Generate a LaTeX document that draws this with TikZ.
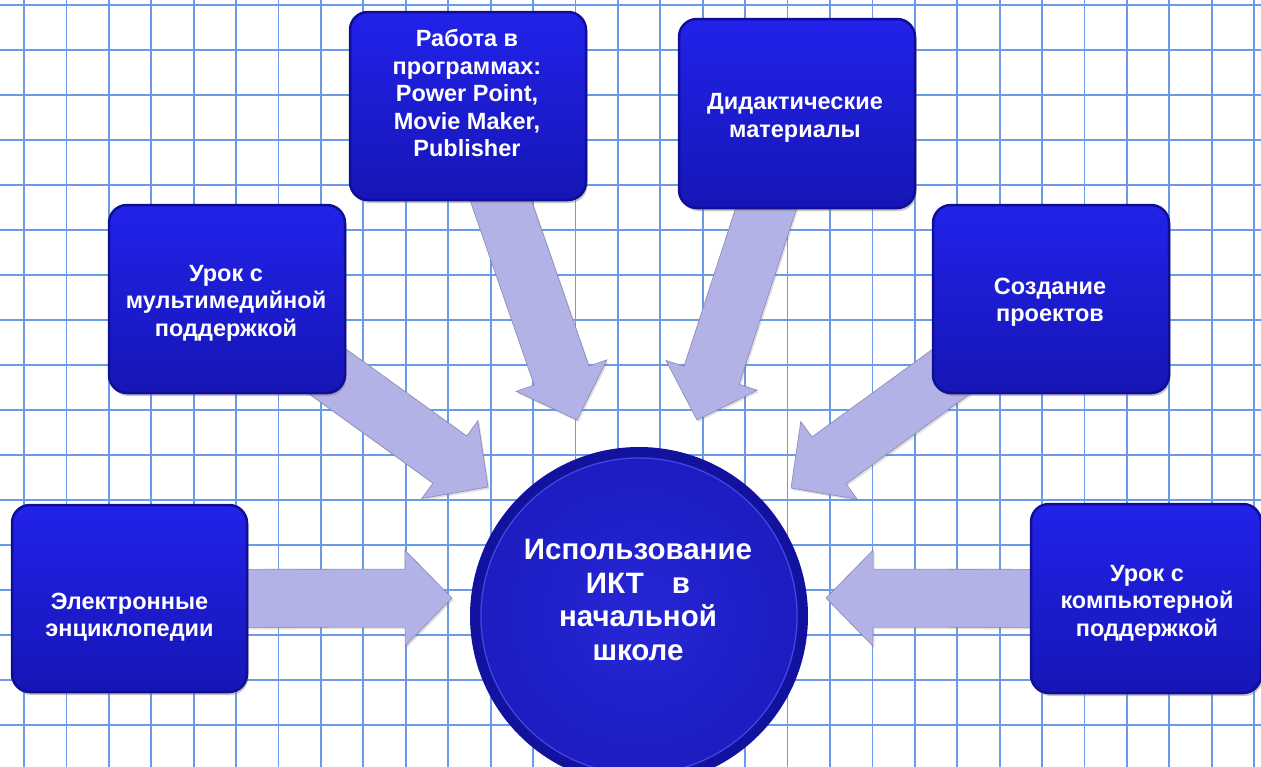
\documentclass[tikz,border=0pt]{standalone}
\usepackage{fontspec}
\setmainfont{Liberation Sans}
\usetikzlibrary{calc,shadows}
\definecolor{gridblue}{RGB}{105,155,232}
\definecolor{arrowfill}{RGB}{178,178,230}
\definecolor{arrowedge}{RGB}{135,135,180}
\definecolor{boxrim}{RGB}{14,14,150}
\definecolor{boxtop}{RGB}{34,34,234}
\definecolor{boxmid}{RGB}{30,30,220}
\definecolor{boxbot}{RGB}{22,22,182}
\definecolor{circrim}{RGB}{18,18,158}
\definecolor{circin}{RGB}{38,38,214}
\definecolor{circout}{RGB}{28,28,192}
\definecolor{circline}{RGB}{70,70,225}
\newcommand\blockarrow[3]{% name, tail, tip
  \coordinate (#1-h) at ($(#3)!47pt!(#2)$);
  \path[arrowshape] ($(#2)!29pt!90:(#3)$) -- ($(#1-h)!29pt!90:(#3)$) -- ($(#1-h)!48pt!90:(#3)$) -- (#3)
    -- ($(#1-h)!48pt!-90:(#3)$) -- ($(#1-h)!29pt!-90:(#3)$) -- ($(#2)!29pt!-90:(#3)$) -- cycle;
}
\begin{document}
\begin{tikzpicture}[x=1pt,y=-1pt,
  gridline/.style={draw=gridblue, line width=1.8pt},
  arrowshape/.style={fill=arrowfill, draw=arrowedge, line width=0.6pt, line join=miter,
    drop shadow={opacity=0.25, shadow xshift=1.5pt, shadow yshift=-2pt}},
  box/.style={rectangle, rounded corners=18pt, minimum width=236pt, minimum height=188pt,
    draw=boxrim, line width=2.5pt, top color=boxtop, middle color=boxmid, bottom color=boxbot,
    drop shadow={opacity=0.45, shadow xshift=1.5pt, shadow yshift=-3pt}},
  boxtext/.style={text=white, font=\fontsize{23.5}{27.5}\selectfont\bfseries, align=center, inner sep=0pt},
  circtext/.style={text=white, font=\fontsize{29.5}{33.5}\selectfont\bfseries, align=center, inner sep=0pt}
]
\useasboundingbox (0,0) rectangle (1261,766);
\clip (0,0) rectangle (1261,766);
\fill[white] (0,0) rectangle (1261,766);
% grid
\foreach \i in {0,...,29} \draw[gridline] ({24+42.42*\i},-5) -- ({24+42.42*\i},771);
\foreach \j in {0,...,17} \draw[gridline] (-5,{5+45*\j}) -- (1266,{5+45*\j});
% anchor coordinates
\coordinate (c1) at (129.5,598.5);
\coordinate (c2) at (227,299);
\coordinate (c3) at (468,106);
\coordinate (c4) at (797,113.5);
\coordinate (c5) at (1051,299);
\coordinate (c6) at (1146,598.5);
\coordinate (tipA) at (452,598);
\coordinate (tipB) at (488,487);
\coordinate (tipC) at (577,420);
\coordinate (tipD) at (697,420);
\coordinate (tipE) at (791,488);
\coordinate (tipF) at (826,598);
% arrows
\blockarrow{aA}{c1}{tipA}
\blockarrow{aB}{c2}{tipB}
\blockarrow{aC}{c3}{tipC}
\blockarrow{aD}{c4}{tipD}
\blockarrow{aE}{c5}{tipE}
\blockarrow{aF}{c6}{tipF}
% boxes
\node[box, minimum height=187pt, minimum width=235pt] (b1) at (c1) {};
\node[box] (b2) at (c2) {};
\node[box] (b3) at (c3) {};
\node[box, minimum height=189pt] (b4) at (c4) {};
\node[box] (b5) at (c5) {};
\node[box, minimum width=230pt, minimum height=189pt] (b6) at (c6) {};
\node[boxtext] (t1) at (129.5,617) {Электронные\\энциклопедии};
\node[boxtext] (t2) at (226,303) {Урок с\\мультимедийной\\поддержкой};
\node[boxtext] (t3) at (467,93) {Работа в\\программах:\\Power Point,\\Movie Maker,\\Publisher};
\node[boxtext] (t4) at (795,118) {Дидактические\\материалы};
\node[boxtext] (t5) at (1050,302) {Создание\\проектов};
\node[boxtext] (t6) at (1147,603) {Урок с\\компьютерной\\поддержкой};
% circle
\node[circle, minimum size=328pt, inner sep=0pt, draw=circrim, line width=10pt,
  inner color=circin, outer color=circout,
  drop shadow={opacity=0.4, shadow xshift=1.5pt, shadow yshift=-3pt}] (circ) at (639,616) {};
\draw[circline, line width=1.2pt] (circ.center) circle (158pt);
\node[circtext] (ct) at (638,600) {Использование\\ИКТ\hspace{20pt} в\\начальной\\школе};
\end{tikzpicture}
\end{document}
